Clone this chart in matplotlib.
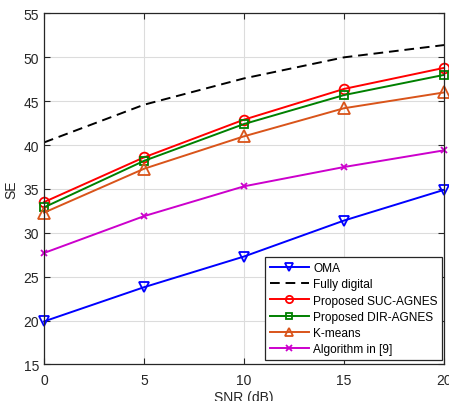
import matplotlib
matplotlib.use("Agg")
import matplotlib.pyplot as plt

plt.rcParams['font.family'] = ['Liberation Sans', 'DejaVu Sans']

snr = [0, 5, 10, 15, 20]
oma = [19.9, 23.8, 27.3, 31.4, 34.9]
fully_digital = [40.3, 44.6, 47.6, 50.0, 51.4]
suc_agnes = [33.5, 38.6, 42.9, 46.4, 48.8]
dir_agnes = [32.9, 38.2, 42.4, 45.7, 48.0]
kmeans = [32.3, 37.3, 41.0, 44.2, 46.0]
alg9 = [27.7, 31.9, 35.3, 37.5, 39.4]

fig = plt.figure(figsize=(4.49, 4.02), dpi=100)
ax = fig.add_axes([0.098, 0.091, 0.891, 0.873])

lw = 1.4
ax.plot(snr, oma, color=(0, 0, 1), lw=lw, marker='v', ms=7, mfc='none', mew=1.3, label='OMA', clip_on=False)
ax.plot(snr, fully_digital, color='black', lw=lw, ls=(0, (5, 3)), label='Fully digital')
ax.plot(snr, suc_agnes, color=(1, 0, 0), lw=lw, marker='o', ms=7, mfc='none', mew=1.3, label='Proposed SUC-AGNES', clip_on=False)
ax.plot(snr, dir_agnes, color=(0, 0.5, 0), lw=lw, marker='s', ms=5.5, mfc='none', mew=1.3, label='Proposed DIR-AGNES', clip_on=False)
ax.plot(snr, kmeans, color=(0.85, 0.33, 0.1), lw=lw, marker='^', ms=8, mfc='none', mew=1.3, label='K-means', clip_on=False)
ax.plot(snr, alg9, color=(0.8, 0, 0.8), lw=lw, marker='x', ms=5, mew=1.3, label='Algorithm in [9]', clip_on=False)

ax.set_xlim(0, 20)
ax.set_ylim(15, 55)
ax.set_xticks([0, 5, 10, 15, 20])
ax.set_yticks(range(15, 56, 5))
ax.grid(True, color='#dcdcdc', lw=0.8)
ax.set_axisbelow(True)
ax.tick_params(direction='in', top=True, right=True, labelsize=10, colors='#262626', length=4)
ax.tick_params(axis='x', pad=6)
for s in ax.spines.values():
    s.set_color('#262626')
    s.set_linewidth(0.9)
ax.set_xlabel('SNR (dB)', fontsize=10, color='#262626', labelpad=2)
ax.set_ylabel('SE', fontsize=10, color='#262626', labelpad=4)

leg = ax.legend(loc='lower right', bbox_to_anchor=(0.996, 0.012), borderaxespad=0,
                fontsize=8.6, fancybox=False, edgecolor='#262626', framealpha=1,
                handlelength=3.3, labelspacing=0.36, borderpad=0.4, handletextpad=0.35,
                markerscale=0.75)
leg.get_frame().set_linewidth(0.9)
leg.set_zorder(5)

fig.savefig('out.png', dpi=100)
